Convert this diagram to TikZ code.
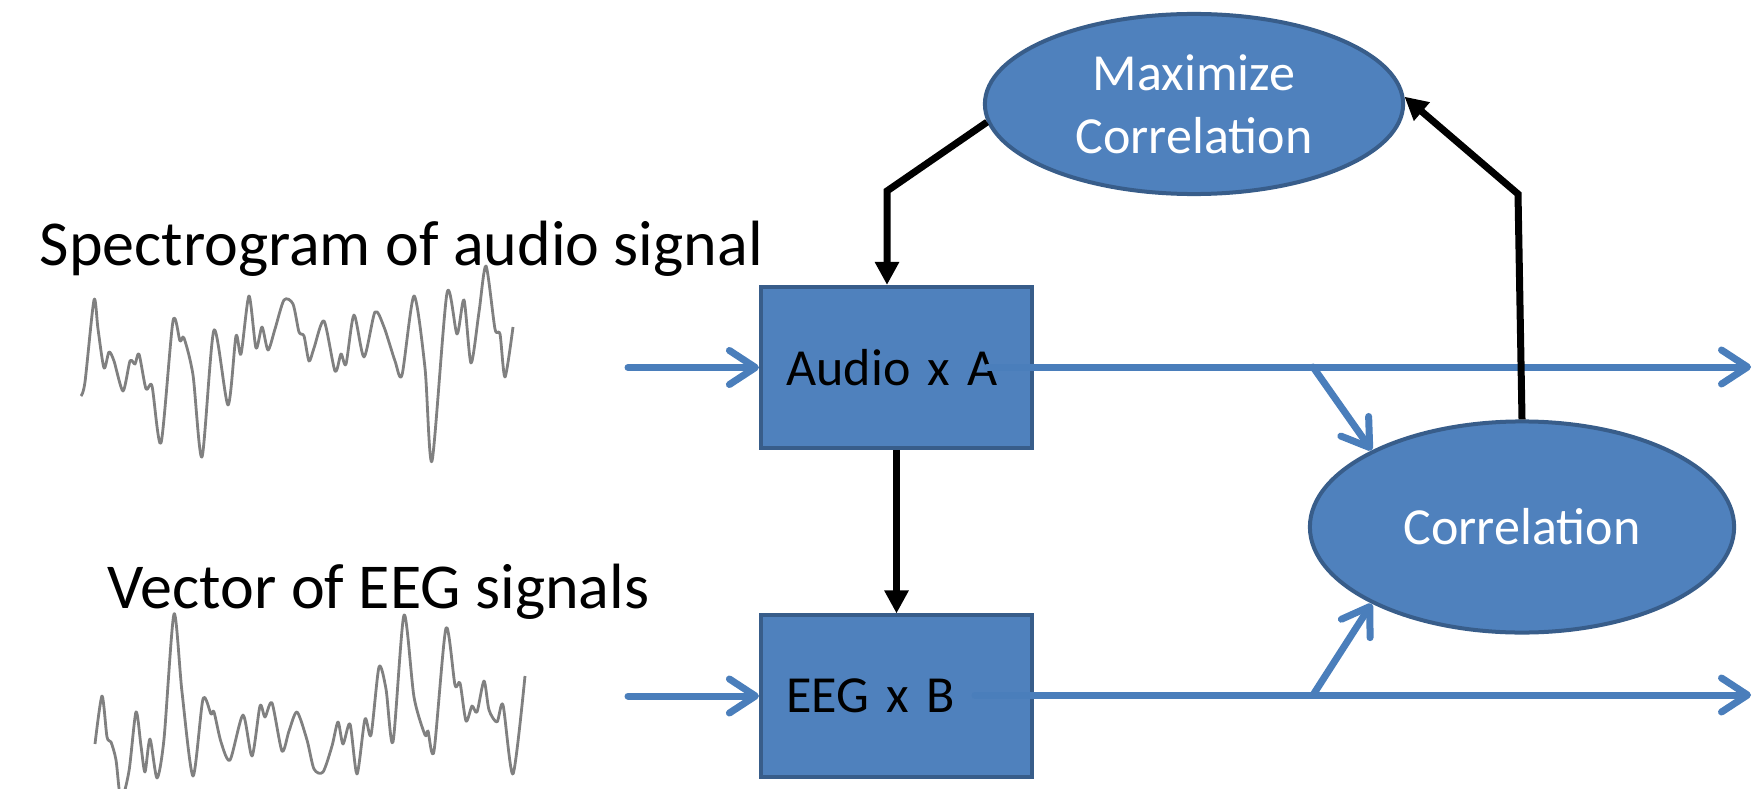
\documentclass[tikz,border=0pt]{standalone}
\usepackage{fontspec}
\setmainfont{Carlito}
\usepackage{tikz}
\usetikzlibrary{arrows.meta,shapes.geometric}
\definecolor{boxblue}{HTML}{4F81BD}
\definecolor{edgeblue}{HTML}{385D8A}
\definecolor{lineblue}{HTML}{4A7EBB}

\begin{document}
\begin{tikzpicture}[x=0.01cm,y=-0.01cm,
    blockbox/.style={draw=edgeblue,fill=boxblue,line width=0.04cm,
        text width=2.2cm,align=left,inner xsep=0.255cm,inner ysep=0pt,
        minimum height=1.61cm,font=\fontsize{14.8pt}{17.9pt}\selectfont},
    blob/.style={ellipse,draw=edgeblue,fill=boxblue,line width=0.04cm,
        inner sep=0pt,text=white,align=center,
        font=\fontsize{14.8pt}{17.9pt}\selectfont},
    flow/.style={lineblue,line width=0.07cm,line cap=round,
        -{Straight Barb[length=0.26cm,width=0.34cm,round]}},
    ctrl/.style={black,line width=0.07cm,-{Triangle[length=0.23cm,width=0.23cm]}},
    wave/.style={black!50,line width=0.028cm,line join=round},
    sigtext/.style={inner sep=0pt,anchor=base west,font=\fontsize{18.2pt}{21pt}\selectfont}
]
    \useasboundingbox (0,0) rectangle (1755,788);

    % signals on the left
    \node[sigtext] (spec) at (39,265) {Spectrogram of audio signal};
    \node[sigtext] (vec) at (107,608) {Vector of EEG signals};

    \draw[wave] plot[smooth,tension=0.45] coordinates {
        (81,396) (85,382) (94,300) (98,329) (104,368) (109,352) (114,361)
        (123,391) (130,361) (135,364) (139,354) (146,389) (152,386) (161,443)
        (173,321) (180,341) (184,338) (193,375) (202,457) (214,330) (228,405)
        (236,336) (241,354) (249,296) (256,348) (262,327) (268,350) (275,329)
        (284,300) (293,304) (299,332) (304,336) (309,361) (314,348) (324,321)
        (335,371) (341,354) (346,364) (354,315) (364,357) (375,312) (384,327)
        (395,361) (402,375) (414,296) (425,368) (432,461) (447,293) (457,334)
        (464,300) (471,363) (479,312) (486,266) (495,329) (500,334) (505,377)
        (513,327)};
    \draw[wave] plot[smooth,tension=0.45] coordinates {
        (95,744) (102,696) (107,737) (111,742) (116,760) (121,800) (129,771)
        (136,712) (141,746) (145,772) (150,739) (157,778) (164,739) (174,614)
        (182,692) (193,776) (203,699) (211,714) (214,712) (221,742) (230,760)
        (243,715) (252,756) (260,706) (265,717) (272,703) (282,751) (289,731)
        (297,712) (307,740) (314,769) (323,772) (332,746) (338,722) (343,744)
        (350,724) (357,774) (365,719) (371,735) (379,667) (386,689) (393,742)
        (404,615) (414,697) (425,735) (428,731) (434,751) (446,628) (455,685)
        (460,683) (466,721) (472,706) (477,712) (484,681) (489,710) (497,722)
        (503,705) (513,774) (525,676)};

    % blocks
    \node[blockbox] (audio) at (896.5,367.5) {Audio x A};
    \node[blockbox] (eeg) at (896.5,696) {EEG x B};
    \node[blob,minimum width=4.18cm,minimum height=1.8cm] (maxcorr) at (1194,104)
        {Maximize\\Correlation};
    \node[blob,minimum width=4.24cm,minimum height=2.11cm] (corr) at (1522,527)
        {Correlation};

    \coordinate (audioIn) at (628,367.5);
    \coordinate (eegIn) at (628,696);
    \coordinate (audioOut) at (987,367);
    \coordinate (eegOut) at (975,695);
    \coordinate (audioEnd) at (1751,367);
    \coordinate (eegEnd) at (1751,695);
    \coordinate (splitA) at (1313,367);
    \coordinate (splitB) at (1313,695);
    \coordinate (kneeL) at (887,191);
    \coordinate (kneeR) at (1518,194);

    % data paths
    \draw[flow] (audioIn) -- (audio.west);
    \draw[flow] (eegIn) -- (eeg.west);
    \draw[flow] (audioOut) -- (audioEnd);
    \draw[flow] (eegOut) -- (eegEnd);
    \draw[flow] (splitA) -- (corr.153);
    \draw[flow] (splitB) -- (corr.207);

    % feedback
    \draw[ctrl] (audio.south) -- (eeg.north);
    \draw[ctrl] (maxcorr.185) -- (kneeL) -- (kneeL |- audio.north);
    \draw[ctrl] (corr.north) -- (kneeR) -- (maxcorr.2);
\end{tikzpicture}
\end{document}
